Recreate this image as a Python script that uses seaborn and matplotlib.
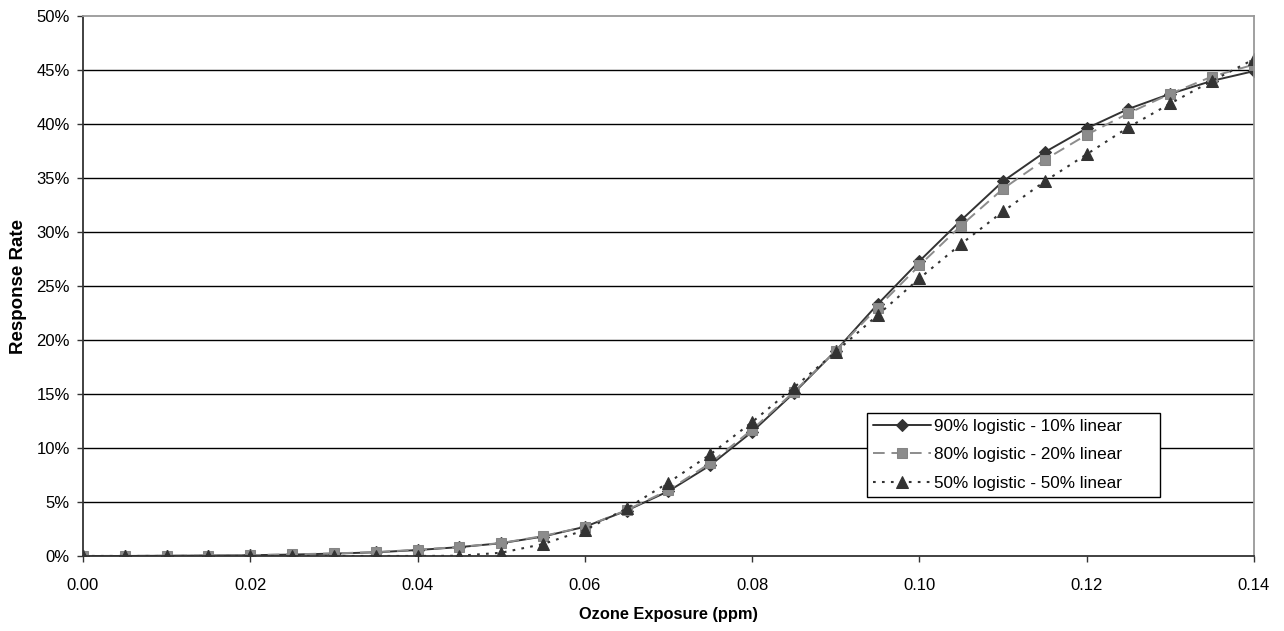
import matplotlib
matplotlib.use("Agg")
import matplotlib.pyplot as plt
import matplotlib.ticker as mticker
import numpy as np
import pandas as pd
import seaborn as sns

# ozone exposure (ppm)
exposure = [0.000, 0.005, 0.010, 0.015, 0.020, 0.025, 0.030, 0.035, 0.040, 0.045,
            0.050, 0.055, 0.060, 0.065, 0.070, 0.075, 0.080, 0.085, 0.090, 0.095,
            0.100, 0.105, 0.110, 0.115, 0.120, 0.125, 0.130, 0.135, 0.140]

# response rate (%)
resp_90_10 = [0.0, 0.0, 0.02, 0.04, 0.07, 0.13, 0.22, 0.34, 0.55, 0.82,
              1.18, 1.8, 2.7, 4.2, 6.0, 8.4, 11.5, 15.1, 19.0, 23.3,
              27.3, 31.1, 34.7, 37.4, 39.6, 41.4, 42.8, 44.0, 44.9]
resp_80_20 = [0.0, 0.01, 0.02, 0.04, 0.08, 0.15, 0.24, 0.36, 0.58, 0.84,
              1.2, 1.85, 2.7, 4.25, 6.1, 8.6, 11.7, 15.2, 19.0, 23.0,
              26.9, 30.6, 34.0, 36.7, 39.0, 41.0, 42.8, 44.4, 45.5]
resp_50_50 = [0.0, 0.0, 0.0, 0.0, 0.0, 0.0, 0.0, 0.0, 0.0, 0.02,
              0.3, 1.1, 2.4, 4.4, 6.8, 9.4, 12.4, 15.6, 18.9, 22.3,
              25.7, 28.9, 31.9, 34.7, 37.2, 39.7, 41.9, 44.0, 46.0]

labels = ["90% logistic - 10% linear", "80% logistic - 20% linear", "50% logistic - 50% linear"]

sns.set_style("white")
plt.rcParams['font.family'] = ['Liberation Sans', 'DejaVu Sans']
plt.rcParams['text.color'] = 'black'
plt.rcParams['axes.labelcolor'] = 'black'
plt.rcParams['xtick.labelcolor'] = 'black'
plt.rcParams['ytick.labelcolor'] = 'black'

fig = plt.figure(figsize=(12.84, 6.31), dpi=100)
ax = fig.add_axes([0.0646, 0.1189, 0.9766 - 0.0646, 0.9746 - 0.1189])

# horizontal gridlines
for yv in np.arange(5, 50, 5):
    ax.axhline(yv, color='black', lw=1.0, zorder=0)

sns.lineplot(x=exposure, y=resp_90_10, ax=ax, color='#333333', lw=1.4,
             marker='D', markersize=6.5, markeredgecolor='#333333', label=labels[0])
sns.lineplot(x=exposure, y=resp_80_20, ax=ax, color='#8c8c8c', lw=1.4,
             linestyle=(0, (6, 3.5)),
             marker='s', markersize=7, markeredgecolor='#858585', label=labels[1])
sns.lineplot(x=exposure, y=resp_50_50, ax=ax, color='#333333', lw=1.5,
             linestyle=(0, (1.3, 3)),
             marker='^', markersize=8.5, markeredgecolor='#333333', label=labels[2])

ax.set_xlim(0, 0.14)
ax.set_ylim(0, 50)
ax.xaxis.set_major_locator(mticker.MultipleLocator(0.02))
ax.xaxis.set_major_formatter(mticker.FormatStrFormatter('%.2f'))
ax.yaxis.set_major_locator(mticker.MultipleLocator(5))
ax.yaxis.set_major_formatter(mticker.FuncFormatter(lambda v, p: f"{v:.0f}%"))
ax.tick_params(axis='both', direction='out', length=4, width=1, color='#333333',
               labelsize=12, left=True, bottom=True)
ax.tick_params(axis='y', pad=5.5)
ax.tick_params(axis='x', pad=12)

for side in ['left', 'bottom']:
    ax.spines[side].set_color('#333333')
    ax.spines[side].set_linewidth(1.3)
for side in ['top', 'right']:
    ax.spines[side].set_color('#999999')
    ax.spines[side].set_linewidth(1.3)

ax.set_xlabel("Ozone Exposure (ppm)", fontsize=11.8, fontweight='bold', labelpad=10)
ax.set_ylabel("Response Rate", fontsize=13.5, fontweight='bold', labelpad=7)

leg = ax.legend(loc='upper left', bbox_to_anchor=(0.6695, 0.0, 0.2502, 0.2648),
                mode='expand', frameon=True, fancybox=False, fontsize=12.3,
                handlelength=3.4, handletextpad=0.2, borderpad=0.35, labelspacing=0.78,
                borderaxespad=0)
leg.get_frame().set_edgecolor('black')
leg.get_frame().set_linewidth(1.0)
leg.get_frame().set_alpha(1)

fig.savefig("out.png", dpi=100)
